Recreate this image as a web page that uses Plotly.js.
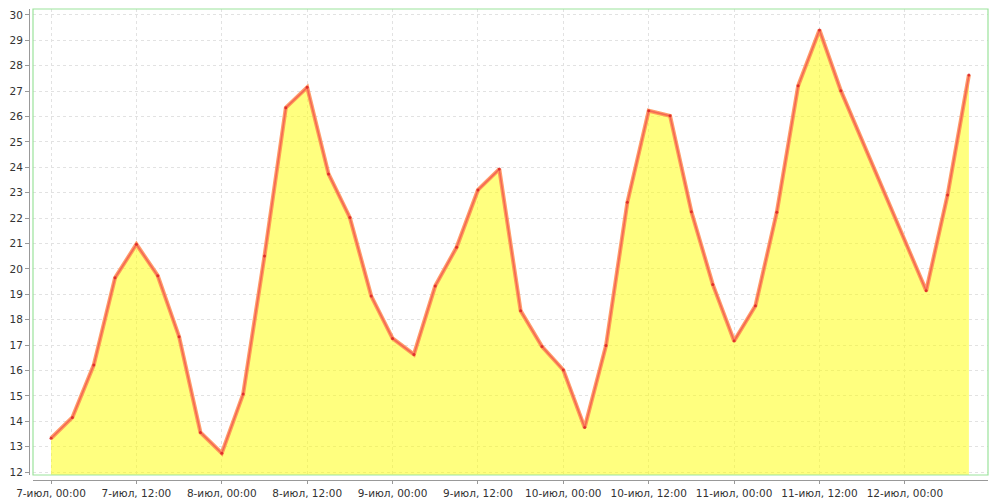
<!DOCTYPE html>
<html>
<head>
<meta charset="utf-8">
<script src="https://cdn.plot.ly/plotly-3.0.1.min.js"></script>
<style>html,body{margin:0;padding:0;background:#fff;}#chart{width:1000px;height:500px;}</style>
</head>
<body>
<div id="chart"></div>
<script>
var times = [
  "2014-07-07 00:00","2014-07-07 03:00","2014-07-07 06:00","2014-07-07 09:00","2014-07-07 12:00","2014-07-07 15:00","2014-07-07 18:00","2014-07-07 21:00",
  "2014-07-08 00:00","2014-07-08 03:00","2014-07-08 06:00","2014-07-08 09:00","2014-07-08 12:00","2014-07-08 15:00","2014-07-08 18:00","2014-07-08 21:00",
  "2014-07-09 00:00","2014-07-09 03:00","2014-07-09 06:00","2014-07-09 09:00","2014-07-09 12:00","2014-07-09 15:00","2014-07-09 18:00","2014-07-09 21:00",
  "2014-07-10 00:00","2014-07-10 03:00","2014-07-10 06:00","2014-07-10 09:00","2014-07-10 12:00","2014-07-10 15:00","2014-07-10 18:00","2014-07-10 21:00",
  "2014-07-11 00:00","2014-07-11 03:00","2014-07-11 06:00","2014-07-11 09:00","2014-07-11 12:00","2014-07-11 15:00",
  "2014-07-12 03:00","2014-07-12 06:00","2014-07-12 09:00"
];
var temps = [
  13.33,14.15,16.21,19.65,20.97,19.73,17.33,13.56,
  12.74,15.07,20.51,26.35,27.15,23.74,22.02,18.93,
  17.26,16.63,19.33,20.85,23.11,23.93,18.35,16.94,
  16.02,13.75,16.98,22.62,26.23,26.03,22.25,19.39,
  17.16,18.55,22.23,27.21,29.41,27.02,
  19.14,22.91,27.64
];
var tickVals = ["2014-07-07 00:00","2014-07-07 12:00","2014-07-08 00:00","2014-07-08 12:00","2014-07-09 00:00","2014-07-09 12:00","2014-07-10 00:00","2014-07-10 12:00","2014-07-11 00:00","2014-07-11 12:00","2014-07-12 00:00"];
var tickText = ["7-июл, 00:00","7-июл, 12:00","8-июл, 00:00","8-июл, 12:00","9-июл, 00:00","9-июл, 12:00","10-июл, 00:00","10-июл, 12:00","11-июл, 00:00","11-июл, 12:00","12-июл, 00:00"];
var yTicks = [12,13,14,15,16,17,18,19,20,21,22,23,24,25,26,27,28,29,30];

var traces = [
  {x: times, y: temps, type: 'scatter', mode: 'lines', fill: 'tozeroy',
   fillcolor: 'rgba(255,255,0,0.5)',
   line: {color: 'rgba(255,140,80,0.85)', width: 4}, hoverinfo: 'skip'},
  {x: times, y: temps, type: 'scatter', mode: 'lines+markers',
   line: {color: 'rgba(240,80,80,0.7)', width: 1.5},
   marker: {color: 'rgba(220,40,40,0.9)', size: 3}}
];

var xd0 = 4/959, yd0 = 5/471;
var tf = {family: 'DejaVu Sans, sans-serif', size: 10.5, color: '#333'};
var layout = {
  width: 1000, height: 500,
  margin: {l: 29, r: 12, t: 9, b: 20, autoexpand: false},
  paper_bgcolor: '#fff', plot_bgcolor: '#fff',
  showlegend: false,
  font: tf,
  xaxis: {
    type: 'date', domain: [xd0, 1], anchor: 'free', position: 0,
    range: ['2014-07-06 21:28', '2014-07-12 11:41'],
    tickmode: 'array', tickvals: tickVals, ticktext: tickText,
    showline: true, linecolor: '#999', linewidth: 1,
    ticks: 'outside', ticklen: 3, tickcolor: '#999',
    showgrid: true, gridcolor: '#e2e2e2', griddash: '3px,3px', gridwidth: 1,
    zeroline: false, automargin: false,
    tickfont: tf
  },
  yaxis: {
    domain: [yd0, 1], anchor: 'free', position: 0,
    range: [11.882, 30.236],
    tickmode: 'array', tickvals: yTicks, ticktext: yTicks.map(String),
    showline: true, linecolor: '#999', linewidth: 1,
    ticks: 'outside', ticklen: 4, tickcolor: '#999',
    showgrid: true, gridcolor: '#e2e2e2', griddash: '3px,3px', gridwidth: 1,
    zeroline: false, automargin: false,
    tickfont: tf
  },
  shapes: [
    {type: 'rect', xref: 'paper', yref: 'paper', x0: xd0, x1: 1, y0: yd0, y1: 1,
     line: {color: '#9be39b', width: 1.2}, fillcolor: 'rgba(0,0,0,0)', layer: 'above'}
  ]
};
Plotly.newPlot('chart', traces, layout, {displayModeBar: false, staticPlot: true});
</script>
</body>
</html>
